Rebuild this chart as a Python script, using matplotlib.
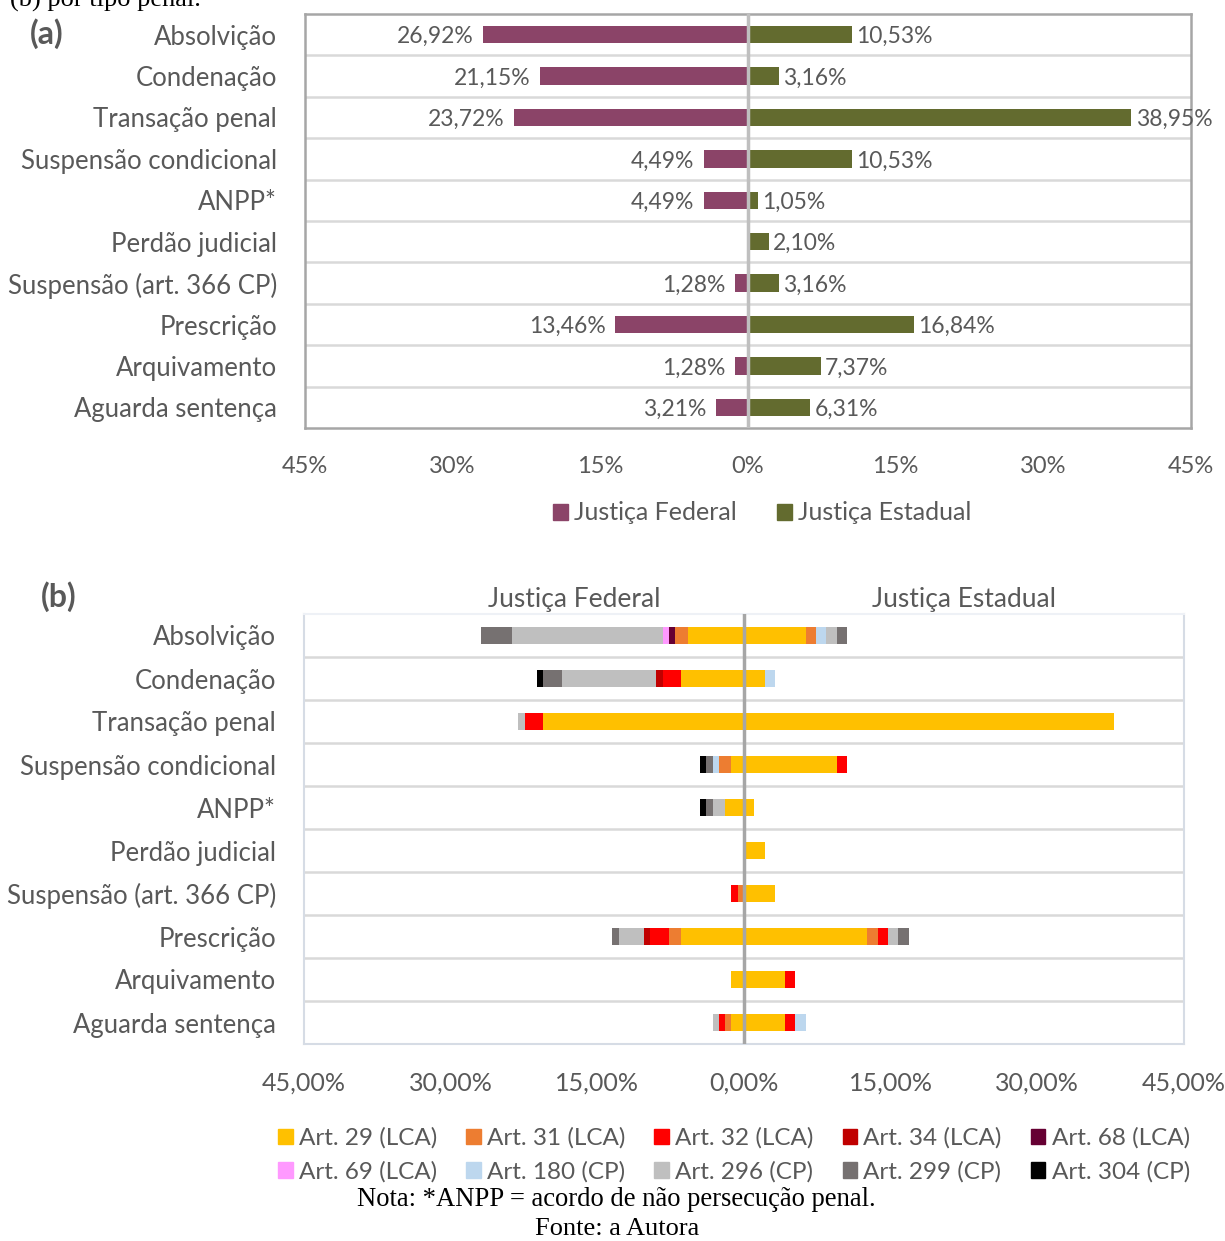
import numpy as np
import matplotlib.pyplot as plt
from matplotlib.patches import Patch

plt.rcParams['font.family'] = ['Lato', 'DejaVu Sans']

categorias = ['Absolvição', 'Condenação', 'Transação penal', 'Suspensão condicional',
              'ANPP*', 'Perdão judicial', 'Suspensão (art. 366 CP)', 'Prescrição',
              'Arquivamento', 'Aguarda sentença']

# (a) totais por desfecho (%)
federal = [26.92, 21.15, 23.72, 4.49, 4.49, 0.00, 1.28, 13.46, 1.28, 3.21]
estadual = [10.53, 3.16, 38.95, 10.53, 1.05, 2.10, 3.16, 16.84, 7.37, 6.31]

# (b) por tipo penal (%)
artigos = ['Art. 29 (LCA)', 'Art. 31 (LCA)', 'Art. 32 (LCA)', 'Art. 34 (LCA)', 'Art. 68 (LCA)',
           'Art. 69 (LCA)', 'Art. 180 (CP)', 'Art. 296 (CP)', 'Art. 299 (CP)', 'Art. 304 (CP)']
cores_art = ['#FFC000', '#ED7D31', '#FF0000', '#C00000', '#660033',
             '#FF99FF', '#BDD7EE', '#BFBFBF', '#767171', '#000000']

fed_art = [
    [5.77, 6.41, 20.51, 1.28, 1.92, 0, 0, 6.41, 1.28, 1.28],   # Art. 29
    [1.28, 0, 0, 1.28, 0, 0, 0.64, 1.28, 0, 0.64],             # Art. 31
    [0, 1.92, 1.92, 0, 0, 0, 0.64, 1.92, 0, 0.64],             # Art. 32
    [0, 0.64, 0, 0, 0, 0, 0, 0.64, 0, 0],                      # Art. 34
    [0.64, 0, 0, 0, 0, 0, 0, 0, 0, 0],                         # Art. 68
    [0.64, 0, 0, 0, 0, 0, 0, 0, 0, 0],                         # Art. 69
    [0, 0, 0, 0.64, 0, 0, 0, 0, 0, 0],                         # Art. 180
    [15.38, 9.62, 0.64, 0, 1.28, 0, 0, 2.56, 0, 0.64],         # Art. 296
    [3.21, 1.92, 0, 0.64, 0.64, 0, 0, 0.64, 0, 0],             # Art. 299
    [0, 0.64, 0, 0.64, 0.64, 0, 0, 0, 0, 0],                   # Art. 304
]
est_art = [
    [6.32, 2.11, 37.89, 9.47, 1.05, 2.11, 3.16, 12.63, 4.21, 4.21],
    [1.05, 0, 0, 0, 0, 0, 0, 1.05, 0, 0],
    [0, 0, 0, 1.05, 0, 0, 0, 1.05, 1.05, 1.05],
    [0, 0, 0, 0, 0, 0, 0, 0, 0, 0],
    [0, 0, 0, 0, 0, 0, 0, 0, 0, 0],
    [0, 0, 0, 0, 0, 0, 0, 0, 0, 0],
    [1.05, 1.05, 0, 0, 0, 0, 0, 0, 0, 1.05],
    [1.05, 0, 0, 0, 0, 0, 0, 1.05, 0, 0],
    [1.05, 0, 0, 0, 0, 0, 0, 1.05, 0, 0],
    [0, 0, 0, 0, 0, 0, 0, 0, 0, 0],
]

ticks = [-45, -30, -15, 0, 15, 30, 45]
cinza = '#595959'
W, H = 1225, 1241


def eixo(x0, y0, x1, y1):
    # coordenadas em pixels (origem no topo)
    return fig.add_axes([x0 / W, 1 - y1 / H, (x1 - x0) / W, (y1 - y0) / H])


def base(ax, cor_borda, lw_borda, cor_centro, fmt, fs_x):
    y = np.arange(len(categorias))
    ax.set_xlim(-45, 45)
    ax.set_ylim(len(categorias) - 0.5, -0.5)
    ax.set_yticks(y)
    ax.set_yticklabels(categorias, fontsize=18.5, color=cinza)
    ax.set_xticks(ticks)
    ax.set_xticklabels([fmt(abs(t)) for t in ticks], fontsize=fs_x, color=cinza)
    ax.tick_params(axis='both', length=0)
    ax.tick_params(axis='y', pad=20)
    ax.tick_params(axis='x', pad=20)
    for s in ax.spines.values():
        s.set_color(cor_borda)
        s.set_linewidth(lw_borda)
    for k in range(len(categorias) - 1):
        ax.axhline(k + 0.5, color='#D9D9D9', lw=1.8, zorder=1)
    ax.axvline(0, color=cor_centro, lw=2.5, zorder=4)
    return y


fig = plt.figure(figsize=(W / 100, H / 100), dpi=100)

# ---------- (a) ----------
ax1 = eixo(305, 14, 1191, 428)
y = base(ax1, '#A6A6A6', 1.8, '#BFBFBF', lambda v: f'{v}%', 17)
ax1.barh(y, [-v for v in federal], height=0.42, color='#8B4468', zorder=3)
ax1.barh(y, estadual, height=0.42, color='#636B2F', zorder=3)
for i in range(len(categorias)):
    if federal[i] > 0:
        ax1.annotate(f'{federal[i]:.2f}%'.replace('.', ','), (-federal[i], i),
                     xytext=(-7, -1.5), textcoords='offset points', ha='right', va='center',
                     fontsize=16.5, color=cinza)
    ax1.annotate(f'{estadual[i]:.2f}%'.replace('.', ','), (estadual[i], i),
                 xytext=(3, -1.5), textcoords='offset points', ha='left', va='center',
                 fontsize=16.5, color=cinza)

fig.legend(handles=[Patch(color='#8B4468', label='Justiça Federal'),
                    Patch(color='#636B2F', label='Justiça Estadual')],
           loc='center', bbox_to_anchor=(762 / W, 1 - 513 / H), ncol=2, frameon=False,
           fontsize=18, labelcolor=cinza, handlelength=0.6, handleheight=0.6,
           handletextpad=0.25, columnspacing=1.6)

# ---------- (b) ----------
ax2 = eixo(304, 614, 1184, 1044)
y = base(ax2, '#D6DCE5', 1.5, '#A6A6A6', lambda v: f'{v},00%', 18)
ax2.spines['top'].set_color('#EEF1F6')
esq = np.zeros(len(categorias))
dir_ = np.zeros(len(categorias))
for k, art in enumerate(artigos):
    f = np.array(fed_art[k])
    e = np.array(est_art[k])
    ax2.barh(y, -f, left=-esq, height=0.4, color=cores_art[k], zorder=3)
    ax2.barh(y, e, left=dir_, height=0.4, color=cores_art[k], zorder=3)
    esq += f
    dir_ += e

fig.text(574 / W, 1 - 600 / H, 'Justiça Federal', ha='center', va='center',
         fontsize=19, color=cinza)
fig.text(964 / W, 1 - 600 / H, 'Justiça Estadual', ha='center', va='center',
         fontsize=19, color=cinza)

# legenda em linhas: reordena para o preenchimento por coluna
ordem = [0, 5, 1, 6, 2, 7, 3, 8, 4, 9]
handles = [Patch(color=cores_art[k], label=artigos[k]) for k in ordem]
fig.legend(handles=handles, loc='center', bbox_to_anchor=(734 / W, 1 - 1155 / H),
           ncol=5, frameon=False, fontsize=17.5, labelcolor=cinza,
           handlelength=0.6, handleheight=0.6, handletextpad=0.25,
           columnspacing=1.2, labelspacing=0.5)

# rótulos dos painéis e notas
fig.text(47 / W, 1 - 34 / H, '(a)', ha='center', va='center', fontsize=23,
         fontweight='bold', color=cinza)
fig.text(59 / W, 1 - 597 / H, '(b)', ha='center', va='center', fontsize=23,
         fontweight='bold', color=cinza)
fig.text(10 / W, 1 - 7 / H, '(b) por tipo penal.', ha='left', va='baseline',
         fontsize=19, family='Liberation Serif', color='black')
fig.text(616 / W, 1 - 1199 / H, 'Nota: *ANPP = acordo de não persecução penal.',
         ha='center', va='center', fontsize=19.2, family='Liberation Serif', color='black')
fig.text(617 / W, 1 - 1229 / H, 'Fonte: a Autora', ha='center', va='center',
         fontsize=19, family='Liberation Serif', color='black')

fig.savefig('out.png', dpi=100)
